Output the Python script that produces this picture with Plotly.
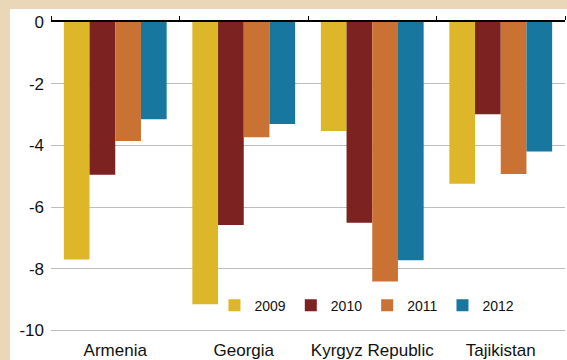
import plotly.graph_objects as go

countries = ["Armenia", "Georgia", "Kyrgyz Republic", "Tajikistan"]
years = ["2009", "2010", "2011", "2012"]
v2009 = [-7.70, -9.15, -3.53, -5.24]
v2010 = [-4.95, -6.58, -6.51, -2.99]
v2011 = [-3.86, -3.74, -8.41, -4.93]
v2012 = [-3.15, -3.31, -7.72, -4.20]
yticks = [0, -2, -4, -6, -8, -10]

series = [v2009, v2010, v2011, v2012]
colors = ["#DEB62A", "#7C2220", "#CA7234", "#17779F"]
FONT = "Liberation Sans, Arial, sans-serif"

fig = go.Figure()
for yr, vals, col in zip(years, series, colors):
    fig.add_trace(go.Bar(x=countries, y=vals, name=yr,
                         marker=dict(color=col, line=dict(width=0))))
# empty helper trace so the top category axis (line + boundary ticks) is drawn
fig.add_trace(go.Scatter(x=countries, y=[None] * len(countries), xaxis="x2",
                         showlegend=False, hoverinfo="skip", mode="markers"))

W, H = 567, 360
L, R, T, B = 51, 2, 22, 28
pw, ph = W - L - R, H - T - B
# white panel inside beige frame
fig.add_shape(type="rect", xref="paper", yref="paper", layer="below",
              x0=(10 - L) / pw, x1=(W - L) / pw + 0.01,
              y0=-(B + 5) / ph, y1=(ph + T - 9) / ph,
              fillcolor="white", line=dict(width=0))

fig.update_layout(
    template="none",
    width=W, height=H,
    margin=dict(l=L, r=R, t=T, b=B, pad=0, autoexpand=False),
    paper_bgcolor="#E9D7B8",
    plot_bgcolor="rgba(0,0,0,0)",
    barmode="group", bargap=0.2, bargroupgap=0,
    font=dict(family=FONT, size=17, color="#111111"),
    showlegend=True,
    legend=dict(orientation="h", x=0.318, y=0.085, xanchor="left", yanchor="middle",
                bgcolor="rgba(0,0,0,0)", font=dict(size=14, family=FONT, color="#111111"),
                itemwidth=30, tracegroupgap=0),
    xaxis=dict(type="category", categoryorder="array", categoryarray=countries,
               showline=False, showgrid=False, ticks="", zeroline=False, automargin=False,
               ticklabelstandoff=6, tickfont=dict(size=17)),
    xaxis2=dict(type="category", matches="x", overlaying="x", side="top", anchor="y",
                showline=True, linecolor="black", linewidth=2, automargin=False,
                ticks="outside", tickson="boundaries", ticklen=4, tickcolor="black", tickwidth=1,
                showticklabels=False, showgrid=False, zeroline=False),
    yaxis=dict(range=[-10.05, 0], tickvals=yticks, ticktext=[str(t) for t in yticks],
               showgrid=True, gridcolor="#BDBDBD", gridwidth=1, automargin=False,
               zeroline=False, showline=False, ticks="",
               ticklabelstandoff=6, tickfont=dict(size=17)),
)

fig.write_html("out.html")
